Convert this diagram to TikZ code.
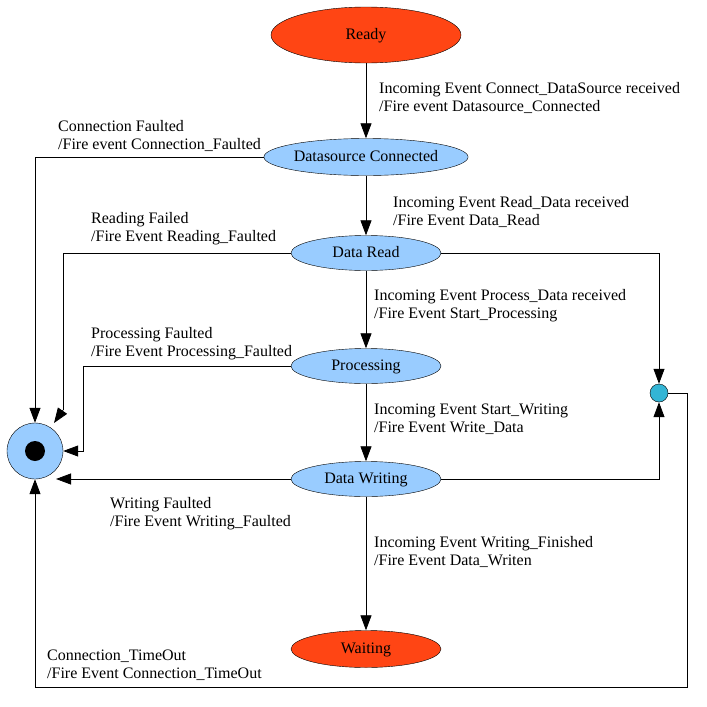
\documentclass[tikz,border=0pt]{standalone}
\usepackage{fontspec}
\setmainfont{Liberation Serif}
\usetikzlibrary{shapes.geometric,arrows.meta}
\definecolor{stOrange}{RGB}{255,69,20}
\definecolor{stBlue}{RGB}{153,204,255}
\definecolor{stCyan}{RGB}{51,181,213}
\begin{document}
\begin{tikzpicture}[x=1pt,y=-1pt,
  every node/.style={font=\fontsize{16}{18}\selectfont},
  bigstate/.style={ellipse,draw,fill=stOrange,inner sep=0pt,text height=9pt,text depth=0pt},
  midstate/.style={ellipse,draw,fill=stBlue,inner sep=0pt,minimum width=150pt,minimum height=35pt,text height=9pt,text depth=0pt},
  lbl/.style={anchor=west,align=left,inner sep=0pt},
  arr/.style={-{Triangle[width=11pt,length=15pt]},line width=0.8pt},
  ln/.style={line width=0.8pt}]
\useasboundingbox (0,0) rectangle (707,707);
\node[bigstate,minimum width=190pt,minimum height=56pt] (ready) at (366,35) {Ready};
\node[midstate,minimum width=190pt,minimum height=37pt] (ds) at (366,157) {Datasource Connected};
\node[midstate] (dr) at (366,253) {Data Read};
\node[midstate] (pr) at (366,366) {Processing};
\node[midstate] (dw) at (366,479) {Data Writing};
\node[bigstate,minimum width=150pt,minimum height=37pt] (wt) at (366,649) {Waiting};
\node[circle,draw,fill=stBlue,minimum size=56pt,inner sep=0pt] (fin) at (35,451) {};
\node[circle,fill=black,minimum size=20pt,inner sep=0pt] (dot) at (35,451) {};
\node[circle,draw,fill=stCyan,minimum size=18pt,inner sep=0pt] (jn) at (659,393) {};
\coordinate (c1) at (63,410);
\coordinate (c5) at (54,423);
\coordinate (c2) at (83,451);
\coordinate (c3) at (56,479);
\coordinate (c4) at (687,687);
% main flow
\draw[arr] (ready) -- (ds);
\draw[arr] (ds) -- (dr);
\draw[arr] (dr) -- (pr);
\draw[arr] (pr) -- (dw);
\draw[arr] (dw) -- (wt);
% faults
\draw[arr] (ds.west) -| (fin.north);
\draw[ln] (dr.west) -| (c1);
\draw[arr] (c1) -- (c5);
\draw[arr] (pr.west) -| (c2) -- (fin.east);
\draw[arr] (dw.west) -- (c3);
% junction
\draw[arr] (dr.east) -| (jn.north);
\draw[arr] (dw.east) -| (jn.south);
\draw[arr] (jn.east) -| (c4) -| (fin.south);
% labels
\node[lbl] (l1) at (379,98) {Incoming Event Connect\_DataSource received\\/Fire event Datasource\_Connected};
\node[lbl] (l2) at (58,136) {Connection Faulted\\/Fire event Connection\_Faulted};
\node[lbl] (l3) at (393,212) {Incoming Event Read\_Data received\\/Fire Event Data\_Read};
\node[lbl] (l4) at (91,229) {Reading Failed\\/Fire Event Reading\_Faulted};
\node[lbl] (l5) at (374,306) {Incoming Event Process\_Data received\\/Fire Event Start\_Processing};
\node[lbl] (l6) at (91,344) {Processing Faulted\\/Fire Event Processing\_Faulted};
\node[lbl] (l7) at (374,419) {Incoming Event Start\_Writing\\/Fire Event Write\_Data};
\node[lbl] (l8) at (110,514) {Writing Faulted\\/Fire Event Writing\_Faulted};
\node[lbl] (l9) at (374,552) {Incoming Event Writing\_Finished\\/Fire Event Data\_Writen};
\node[lbl] (l10) at (47,665) {Connection\_TimeOut\\/Fire Event Connection\_TimeOut};
\end{tikzpicture}
\end{document}
